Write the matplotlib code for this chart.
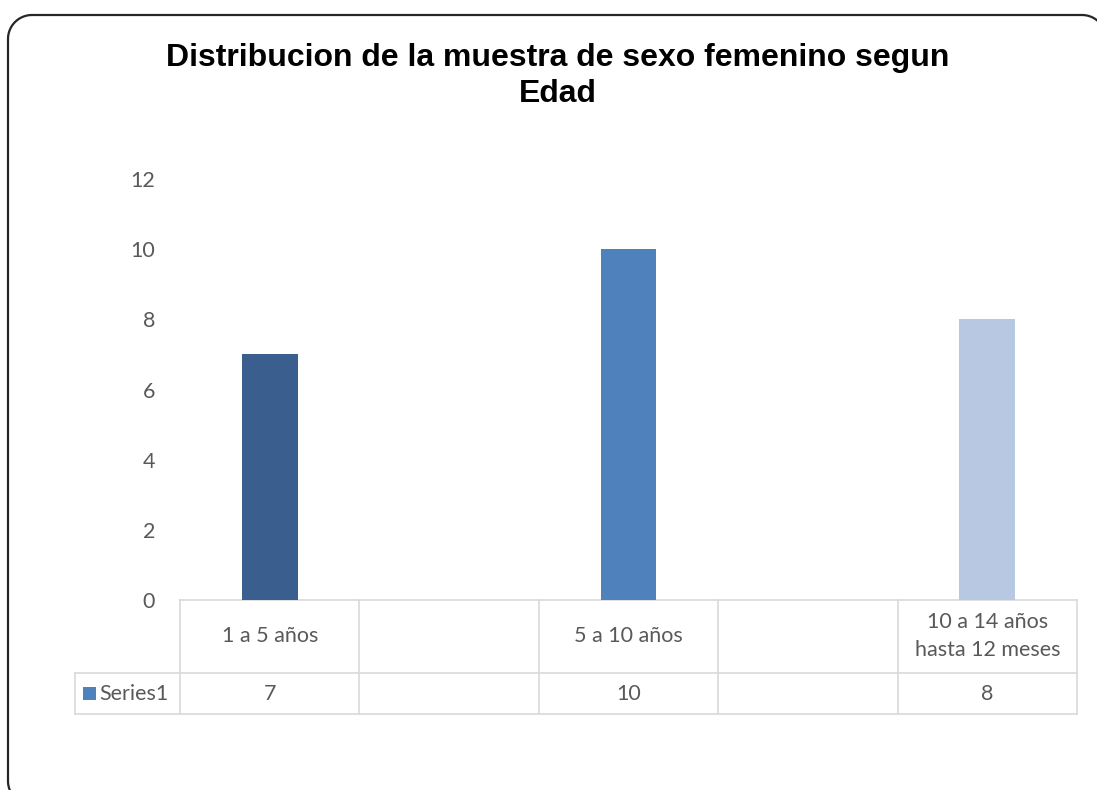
import numpy as np
import matplotlib
matplotlib.use("Agg")
import matplotlib.pyplot as plt
import matplotlib.patches as mpatches
import matplotlib.transforms as mtransforms
from matplotlib.path import Path

categories = ["1 a 5 años", "", "5 a 10 años", "", "10 a 14 años\nhasta 12 meses"]
values = [7, None, 10, None, 8]
table_values = ["7", "", "10", "", "8"]
bar_colors = ["#3A5F8E", "#4F81BD", "#B9C8E2"]
series_name = "Series1"
yticks = [0, 2, 4, 6, 8, 10, 12]
title = "Distribucion de la muestra de sexo femenino segun\nEdad"

W, H = 1097, 790
fig = plt.figure(figsize=(W / 100, H / 100), dpi=100)
fig.patch.set_facecolor("white")

# rounded chart border drawn in pixel coordinates (origin top-left converted)
def rounded_rect(x0, y0, x1, y1, r, n=24):
    pts = []
    corners = [((x0 + r, y0 + r), np.pi, 1.5 * np.pi),
               ((x1 - r, y0 + r), 1.5 * np.pi, 2 * np.pi),
               ((x1 - r, y1 - r), 0, 0.5 * np.pi),
               ((x0 + r, y1 - r), 0.5 * np.pi, np.pi)]
    for (cx, cy), a0, a1 in corners:
        for a in np.linspace(a0, a1, n):
            pts.append((cx + r * np.cos(a), cy + r * np.sin(a)))
    pts.append(pts[0])
    return [(px, H - py) for px, py in pts]

border_pts = rounded_rect(8, 15, 1106, 805, 24)
border = mpatches.PathPatch(Path(border_pts), transform=mtransforms.IdentityTransform(),
                            facecolor="none", edgecolor="#262626", linewidth=1.6)
fig.add_artist(border)

ax_l, ax_r, ax_t, ax_b = 180, 1077, 179, 600
ax = fig.add_axes([ax_l / W, 1 - ax_b / H, (ax_r - ax_l) / W, (ax_b - ax_t) / H])

xs = [i for i, v in enumerate(values) if v is not None]
vals = [v for v in values if v is not None]
ax.bar(xs, vals, width=0.31, color=bar_colors, zorder=3)

FS = 15.5
TXT = "#595959"
ax.set_xlim(-0.5, len(categories) - 0.5)
ax.set_ylim(0, 12)
ax.set_yticks(yticks)
ax.set_yticklabels([str(t) for t in yticks], fontsize=FS, color=TXT, family="Lato")
ax.tick_params(axis="y", length=0, pad=18)
ax.set_xticks([])
for s in ["top", "right", "left"]:
    ax.spines[s].set_visible(False)
ax.spines["bottom"].set_color("#D9D9D9")
ax.spines["bottom"].set_linewidth(1.2)

# data table below axes
axh = ax_b - ax_t
row1 = -(673 - ax_b) / axh
row2 = -(714 - ax_b) / axh
leg_left = (75 - ax_l) / (ax_r - ax_l)
trans = mtransforms.blended_transform_factory(ax.transData, ax.transAxes)
lc = "#D9D9D9"
lw = 1.2
n = len(categories)
for k in range(n + 1):
    ax.plot([k - 0.5, k - 0.5], [0, row2], transform=trans, color=lc, lw=lw, clip_on=False)
for yy in [row1, row2]:
    ax.plot([leg_left, 1], [yy, yy], transform=ax.transAxes, color=lc, lw=lw, clip_on=False)
ax.plot([leg_left, leg_left], [row1, row2], transform=ax.transAxes, color=lc, lw=lw, clip_on=False)

for i, (c, tv) in enumerate(zip(categories, table_values)):
    ax.text(i, row1 / 2, c, transform=trans, ha="center", va="center",
            fontsize=FS, color=TXT, family="Lato", linespacing=1.5)
    ax.text(i, (row1 + row2) / 2, tv, transform=trans, ha="center", va="center",
            fontsize=FS, color=TXT, family="Lato")

# legend key in table
key_w = 13 / (ax_r - ax_l)
key_h = 13 / axh
ax.add_patch(mpatches.Rectangle(((83 - ax_l) / (ax_r - ax_l), (row1 + row2) / 2 - key_h / 2),
                                key_w, key_h, transform=ax.transAxes,
                                facecolor="#4F81BD", edgecolor="none", clip_on=False))
ax.text((99 - ax_l) / (ax_r - ax_l), (row1 + row2) / 2, series_name, transform=ax.transAxes,
        ha="left", va="center", fontsize=FS, color=TXT, family="Lato")

fig.text(558 / W, 1 - 76 / H, title, ha="center", va="center", fontsize=23,
         fontweight="bold", family="Liberation Sans", color="black", linespacing=1.25)

fig.savefig("out.png", dpi=100, facecolor="white")
